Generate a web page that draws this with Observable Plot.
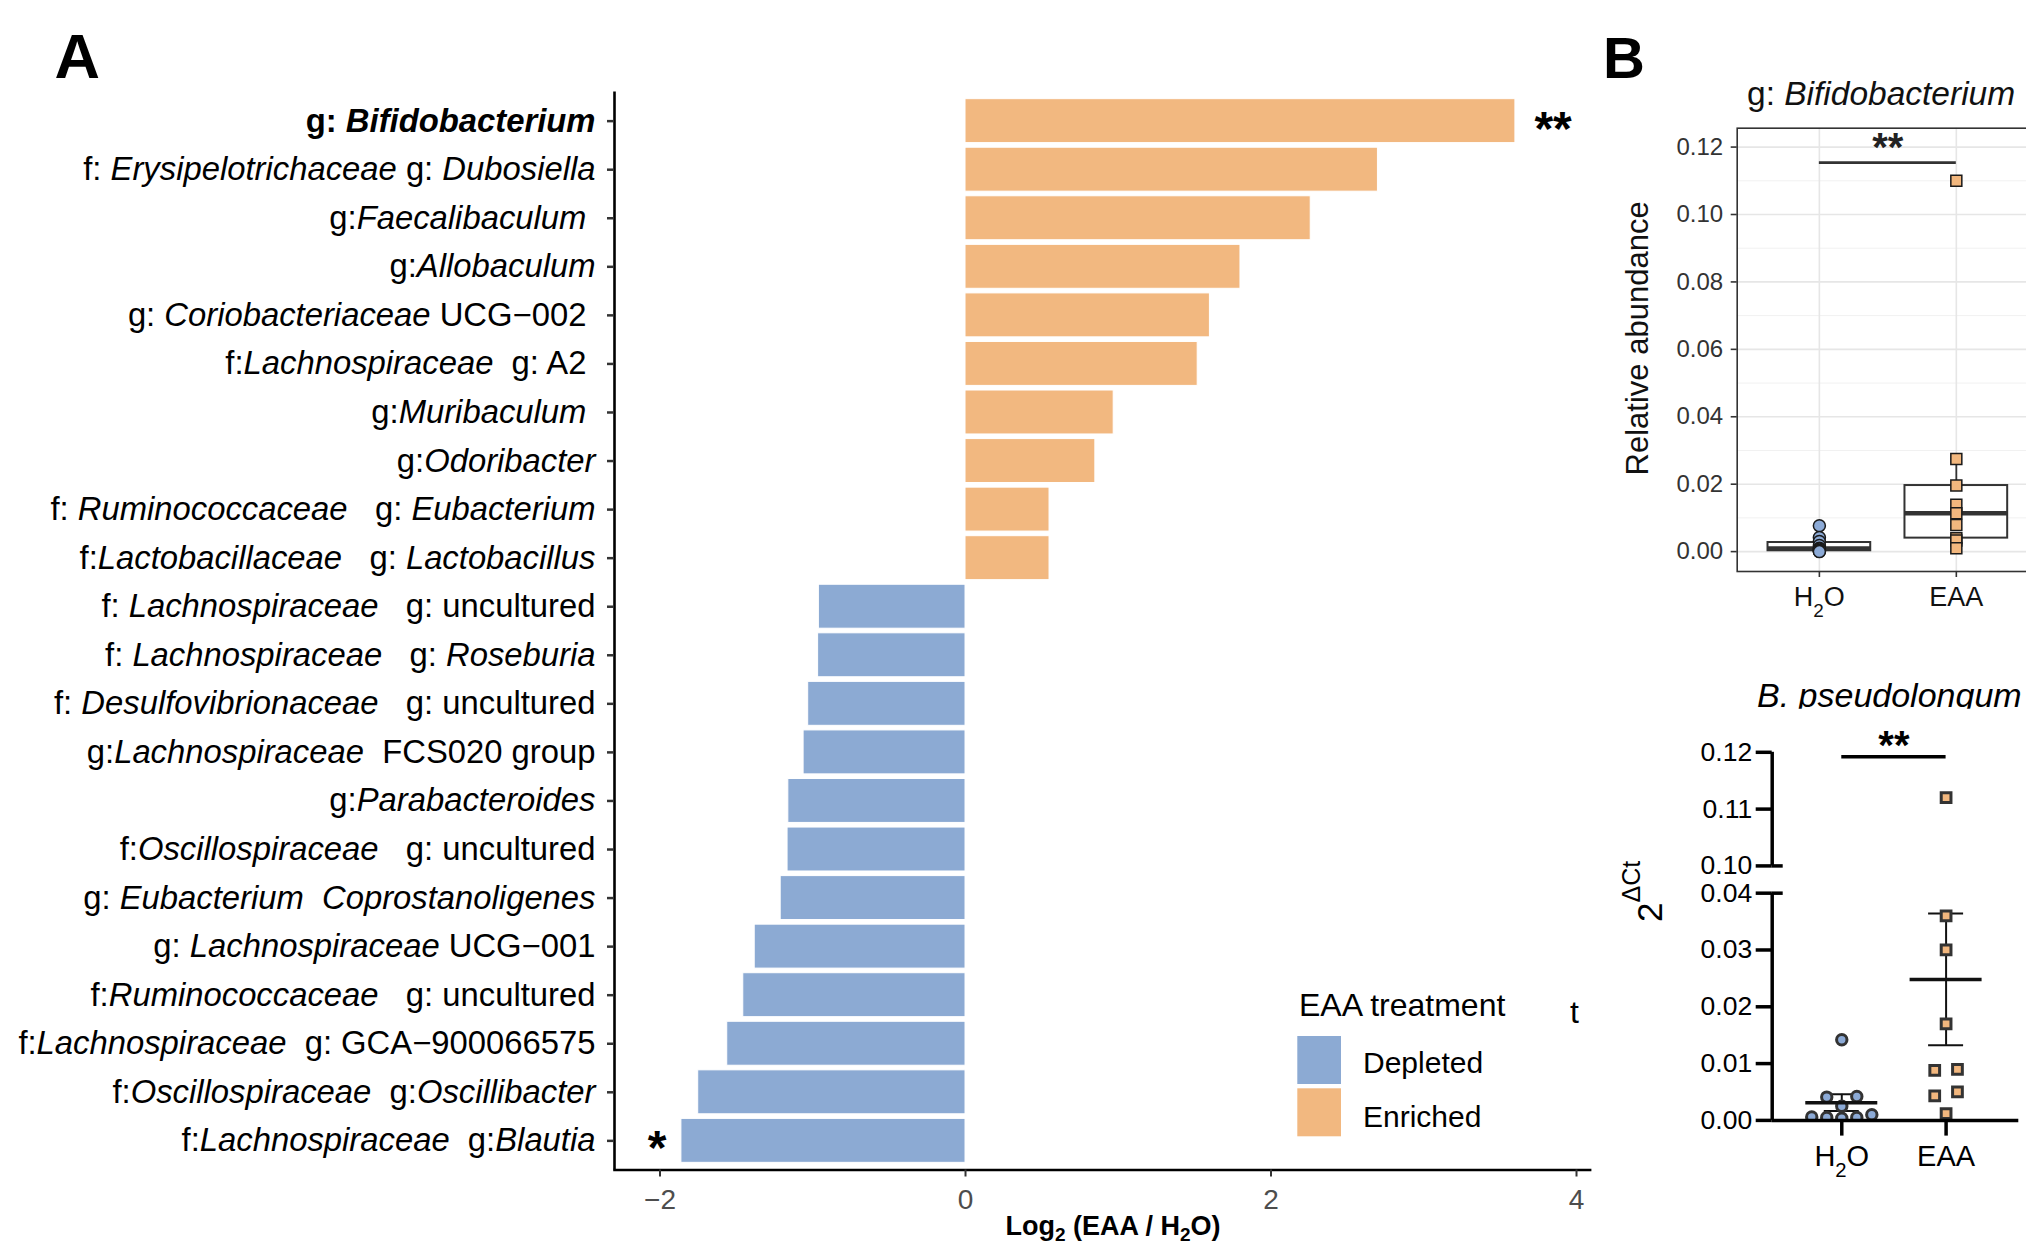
<!DOCTYPE html>
<html><head><meta charset="utf-8">
<script src="https://cdn.jsdelivr.net/npm/d3@7"></script>
<script src="https://cdn.jsdelivr.net/npm/@observablehq/plot@0.6"></script>
<style>
html,body{margin:0;padding:0;background:#fff;}
#root{position:relative;width:2026px;height:1246px;overflow:hidden;background:#fff;}
.abs{position:absolute;}
.abs svg{max-width:none !important;}
</style></head><body><div id="root"></div>
<script>
// ---------------- DATA ----------------
// Panel A: taxa (underscore-delimited segments are italic), log2 fold change, significance
const taxa = [
  "g: _Bifidobacterium_",
  "f: _Erysipelotrichaceae_ g: _Dubosiella_",
  "g:_Faecalibaculum_ ",
  "g:_Allobaculum_",
  "g: _Coriobacteriaceae_ UCG−002 ",
  "f:_Lachnospiraceae_  g: A2 ",
  "g:_Muribaculum_ ",
  "g:_Odoribacter_",
  "f: _Ruminococcaceae_   g: _Eubacterium_",
  "f:_Lactobacillaceae_   g: _Lactobacillus_",
  "f: _Lachnospiraceae_   g: uncultured",
  "f: _Lachnospiraceae_   g: _Roseburia_",
  "f: _Desulfovibrionaceae_   g: uncultured",
  "g:_Lachnospiraceae_  FCS020 group",
  "g:_Parabacteroides_",
  "f:_Oscillospiraceae_   g: uncultured",
  "g: _Eubacterium  Coprostanoligenes_",
  "g: _Lachnospiraceae_ UCG−001",
  "f:_Ruminococcaceae_   g: uncultured",
  "f:_Lachnospiraceae_  g: GCA−900066575",
  "f:_Oscillospiraceae_  g:_Oscillibacter_",
  "f:_Lachnospiraceae_  g:_Blautia_"
];
const log2fc = [3.60, 2.70, 2.26, 1.80, 1.60, 1.52, 0.97, 0.85, 0.55, 0.55,
  -0.96, -0.965, -1.03, -1.06, -1.16, -1.165, -1.21, -1.38, -1.455, -1.56, -1.75, -1.86];
const significance = ["**","","","","","","","","","","","","","","","","","","","","","*"];
const highlighted = ["g: _Bifidobacterium_"];
const treatmentGroups = ["Depleted", "Enriched"];
const treatmentColors = ["#8CAAD3", "#F2B880"];
const axisATicks = [-2, 0, 2, 4];

// Panel B (top): relative abundance of g: Bifidobacterium
const groupsB = ["H₂O", "EAA"];
const groupColors = ["#8CAAD6", "#F2B77E"];
const bifH2O = [0.0077, 0.0042, 0.0030, 0.0018, 0.0010, 0.0008, 0.0004, 0.0002, 0.0001, 0.0000];
const bifEAA = [0.1100, 0.0275, 0.0196, 0.0139, 0.0114, 0.0079, 0.0040, 0.0033, 0.0010];
const bifMajorTicks = [0, 0.02, 0.04, 0.06, 0.08, 0.10, 0.12];
const bifMinorTicks = [0.01, 0.03, 0.05, 0.07, 0.09, 0.11];
const bifSig = {y: 0.1154, ystar: 0.1205, label: "**"};

// Panel B (bottom): B. pseudolongum 2^ΔCt
const pseudoH2O = [0.0142, 0.0042, 0.0041, 0.0025, 0.0010, 0.0006, 0.0005, 0.0005, 0.0004];
const pseudoEAA = [0.112, 0.036, 0.030, 0.017, 0.009, 0.0088, 0.005, 0.0043, 0.0012];
const pseudoTicks = [0, 0.01, 0.02, 0.03, 0.04, 0.10, 0.11, 0.12];
const pseudoSegments = [[0, 0.04], [0.10, 0.12]];
const pseudoSig = {y: 0.1192, ystar: 0.1219, label: "**"};

// ---------------- HELPERS ----------------
const FONT = '"Liberation Sans", Arial, Helvetica, sans-serif';
const SVGNS = "http://www.w3.org/2000/svg";
const root = document.getElementById("root");
function place(el, left, top, w, h) {
  const d = document.createElement("div");
  d.className = "abs"; d.style.left = left + "px"; d.style.top = top + "px";
  d.style.width = w + "px"; d.style.height = h + "px";
  el.style.maxWidth = "none";
  d.appendChild(el); root.appendChild(d); return d;
}
function tspan(txt, attrs = {}) {
  const t = document.createElementNS(SVGNS, "tspan");
  t.textContent = txt;
  for (const k in attrs) t.setAttribute(k, attrs[k]);
  return t;
}
function italicize(svg, labels, bolds) {
  const set = new Set(labels);
  svg.querySelectorAll("text").forEach(t => {
    const raw = t.textContent;
    if (!set.has(raw)) return;
    t.textContent = "";
    t.style.whiteSpace = "pre";
    if (bolds.includes(raw)) t.setAttribute("font-weight", "bold");
    raw.split("_").forEach((seg, i) => {
      if (!seg) return;
      t.appendChild(tspan(seg, i % 2 ? {"font-style": "italic"} : {}));
    });
  });
}
function subscriptify(svg) {
  svg.querySelectorAll("text").forEach(t => {
    const raw = t.textContent;
    if (!raw.includes("₂")) return;
    t.textContent = "";
    raw.split("₂").forEach((p, i) => {
      if (i > 0) t.appendChild(tspan("2", {"font-size": "70%", "baseline-shift": "sub"}));
      if (p) t.appendChild(tspan(p));
    });
  });
}

// ---------------- PANEL A ----------------
const rowsA = taxa.map((t, i) => ({taxon: t, lfc: log2fc[i], sig: significance[i],
  dir: log2fc[i] < 0 ? treatmentGroups[0] : treatmentGroups[1]}));
const xDomA = [-2.298, 4.089];
const plotA = Plot.plot({
  width: 1600, height: 1246,
  marginLeft: 614, marginRight: 10.4, marginTop: 91.5, marginBottom: 76.5,
  style: {fontFamily: FONT, background: "transparent", overflow: "visible"},
  x: {domain: xDomA},
  y: {domain: taxa, paddingInner: 0.095, paddingOuter: 0.1475, round: false},
  color: {domain: treatmentGroups, range: treatmentColors},
  marks: [
    Plot.barX(rowsA, {x: "lfc", y: "taxon", fill: "dir", stroke: "#fff", strokeWidth: 1}),
    Plot.text(rowsA.filter(d => d.sig && d.lfc > 0), {x: "lfc", y: "taxon", text: "sig",
      textAnchor: "start", dx: 19, dy: 8, fontSize: 48, fontWeight: "bold", fill: "#000"}),
    Plot.text(rowsA.filter(d => d.sig && d.lfc < 0), {x: "lfc", y: "taxon", text: "sig",
      textAnchor: "end", dx: -15, dy: 8, fontSize: 48, fontWeight: "bold", fill: "#000"}),
    Plot.ruleX([xDomA[0]], {stroke: "#000", strokeWidth: 2.6}),
    Plot.frame({anchor: "bottom", stroke: "#000", strokeWidth: 2.6}),
    Plot.axisY({tickSize: 7, tickPadding: 12, fontSize: 32.8, fill: "#000", stroke: "#333",
      strokeWidth: 2.5, label: null}),
    Plot.axisX({ticks: axisATicks, tickSize: 7, tickPadding: 12, fontSize: 28, fill: "#4d4d4d",
      stroke: "#333", strokeWidth: 2, label: null,
      tickFormat: d => d < 0 ? "−" + Math.abs(d) : String(d)})
  ]
});
italicize(plotA, taxa, highlighted);
place(plotA, 0, 0, 1600, 1246);

// ---------------- PANEL B top ----------------
const bifSets = [bifH2O, bifEAA];
const bifPoints = bifSets.flatMap((vals, g) => vals.map(v => ({g, v})));
const bifStats = bifSets.map((vals, g) => {
  const s = vals.slice().sort(d3.ascending);
  const q1 = d3.quantile(s, 0.25), q2 = d3.quantile(s, 0.5), q3 = d3.quantile(s, 0.75);
  const iqr = q3 - q1;
  return {g, q1, q2, q3,
    lo: d3.min(s.filter(v => v >= q1 - 1.5 * iqr)),
    hi: d3.max(s.filter(v => v <= q3 + 1.5 * iqr))};
});
const boxHalf = 0.375;
const plotB1 = Plot.plot({
  width: 440, height: 530,
  marginLeft: 136.7, marginRight: 2, marginTop: 17.7, marginBottom: 69,
  style: {fontFamily: FONT, background: "transparent", overflow: "visible"},
  x: {domain: [-0.6, 1.6]},
  y: {domain: [-0.0059, 0.1256]},
  marks: [
    Plot.gridY(bifMinorTicks, {stroke: "#f1f1f1", strokeOpacity: 1, strokeWidth: 1}),
    Plot.gridY(bifMajorTicks, {stroke: "#e6e6e6", strokeOpacity: 1, strokeWidth: 1.6}),
    Plot.gridX([0, 1], {stroke: "#e6e6e6", strokeOpacity: 1, strokeWidth: 1.6}),
    Plot.ruleX(bifStats, {x: "g", y1: "lo", y2: "hi", stroke: "#333", strokeWidth: 1.8}),
    Plot.rectY(bifStats, {x1: d => d.g - boxHalf, x2: d => d.g + boxHalf, y1: "q1", y2: "q3",
      fill: "#fff", stroke: "#333", strokeWidth: 2}),
    Plot.ruleY(bifStats, {y: "q2", x1: d => d.g - boxHalf, x2: d => d.g + boxHalf, stroke: "#333", strokeWidth: 4.5}),
    Plot.dot(bifPoints.filter(d => d.g === 0), {x: "g", y: "v", r: 6, symbol: "circle",
      fill: groupColors[0], stroke: "#1a1a1a", strokeWidth: 1.5}),
    Plot.dot(bifPoints.filter(d => d.g === 1), {x: "g", y: "v", r: 6.2, symbol: "square",
      fill: groupColors[1], stroke: "#1a1a1a", strokeWidth: 1.5}),
    Plot.ruleY([bifSig], {y: "y", x1: 0, x2: 1, stroke: "#333", strokeWidth: 2.6}),
    Plot.text([bifSig], {x: 0.5, y: "ystar", text: "label", fontSize: 40, fontWeight: "bold", dy: 3, fill: "#222"}),
    Plot.frame({stroke: "#333", strokeWidth: 1.6}),
    Plot.axisY({ticks: bifMajorTicks, tickSize: 6, tickPadding: 8, fontSize: 24, fill: "#333",
      stroke: "#333", strokeWidth: 1.6, tickFormat: d3.format(".2f"), label: null}),
    Plot.axisX({ticks: [0, 1], tickSize: 6, tickPadding: 9, fontSize: 27, fill: "#111",
      stroke: "#333", strokeWidth: 1.6, tickFormat: i => groupsB[i], label: null})
  ]
});
subscriptify(plotB1);
place(plotB1, 1600, 110, 440, 530);

// ---------------- PANEL B bottom (broken axis) ----------------
const breakGap = 0.0048;
const brk = v => v <= pseudoSegments[0][1] + 1e-9 ? v : v - pseudoSegments[1][0] + pseudoSegments[0][1] + breakGap;
function swarmOffsets(vals, thresh) {
  const idx = d3.range(vals.length).sort((a, b) => vals[a] - vals[b]);
  const off = new Array(vals.length).fill(0);
  let i = 0;
  while (i < idx.length) {
    const start = vals[idx[i]], row = [];
    while (i < idx.length && vals[idx[i]] - start < thresh) row.push(idx[i++]);
    const n = row.length, order = [];
    if (n % 2) { order.push(0); for (let k = 1; k <= (n - 1) / 2; k++) order.push(-k, k); }
    else { for (let k = 0; k < n / 2; k++) order.push(-(k + 0.5), k + 0.5); }
    row.forEach((j, m) => off[j] = order[m]);
  }
  return off;
}
const pseudoSets = [pseudoH2O, pseudoEAA];
const slotWidth = [0.144, 0.218];
const swarmThresh = [0.002, 0.0022];
const pseudoPoints = pseudoSets.flatMap((vals, g) => {
  const off = swarmOffsets(vals, swarmThresh[g]);
  return vals.map((v, i) => ({g, v, xo: g + off[i] * slotWidth[g]}));
});
const pseudoStats = pseudoSets.map((vals, g) => {
  const m = d3.mean(vals), se = d3.deviation(vals) / Math.sqrt(vals.length);
  return {g, mean: m, lo: m - se, hi: m + se};
});
const xDomB2 = [-0.667, 1.697];
const pxPerUnitB2 = (440 - 171.7 - 21.7) / (xDomB2[1] - xDomB2[0]);
const meanHalf = 36 / pxPerUnitB2, capHalf = 17.5 / pxPerUnitB2, breakExt = 11 / pxPerUnitB2;
const tickLabelMap = new Map(pseudoTicks.map(t => [brk(t), d3.format(".2f")(t)]));
const plotB2 = Plot.plot({
  width: 440, height: 526,
  marginLeft: 171.7, marginRight: 21.7, marginTop: 31.8, marginBottom: 126.1,
  style: {fontFamily: FONT, background: "transparent", overflow: "visible"},
  x: {domain: xDomB2},
  y: {domain: [0, brk(0.12)]},
  marks: [
    Plot.ruleX(pseudoStats, {x: "g", y1: "lo", y2: "hi", stroke: "#111", strokeWidth: 2}),
    Plot.ruleY(pseudoStats, {y: "lo", x1: d => d.g - capHalf, x2: d => d.g + capHalf, stroke: "#111", strokeWidth: 2}),
    Plot.ruleY(pseudoStats, {y: "hi", x1: d => d.g - capHalf, x2: d => d.g + capHalf, stroke: "#111", strokeWidth: 2}),
    Plot.dot(pseudoPoints.filter(d => d.g === 0), {x: "xo", y: d => brk(d.v), r: 5.2, symbol: "circle",
      fill: groupColors[0], stroke: "#333", strokeWidth: 3, clip: true}),
    Plot.dot(pseudoPoints.filter(d => d.g === 1), {x: "xo", y: d => brk(d.v), r: 5.5, symbol: "square",
      fill: groupColors[1], stroke: "#333", strokeWidth: 3, clip: true}),
    Plot.ruleY(pseudoStats, {y: "mean", x1: d => d.g - meanHalf, x2: d => d.g + meanHalf, stroke: "#111", strokeWidth: 3.5}),
    Plot.ruleX(pseudoSegments, {x: xDomB2[0], y1: d => brk(d[0]), y2: d => brk(d[1]), stroke: "#000", strokeWidth: 3.5}),
    Plot.ruleY([pseudoSegments[0][1], pseudoSegments[1][0]], {y: brk, x1: xDomB2[0], x2: xDomB2[0] + breakExt, stroke: "#000", strokeWidth: 3.5}),
    Plot.ruleY([0], {stroke: "#000", strokeWidth: 3.5}),
    Plot.ruleY([pseudoSig], {y: d => brk(d.y), x1: 0, x2: 1, stroke: "#000", strokeWidth: 3.5}),
    Plot.text([pseudoSig], {x: 0.5, y: d => brk(d.ystar), text: "label", fontSize: 40, fontWeight: "bold", dy: 5, fill: "#000"}),
    Plot.axisY({ticks: pseudoTicks.map(brk), tickSize: 16, tickPadding: 4, fontSize: 26.5, fill: "#000",
      stroke: "#000", strokeWidth: 3.5, tickFormat: t => tickLabelMap.get(t), label: null}),
    Plot.axisX({ticks: [0, 1], tickSize: 15.7, tickPadding: 9, fontSize: 29, fill: "#000",
      stroke: "#000", strokeWidth: 3.5, tickFormat: i => groupsB[i], label: null})
  ]
});
subscriptify(plotB2);
place(plotB2, 1600, 720, 440, 526);

// ---------------- OVERLAY TEXT (panel letters, titles, legend) ----------------
const ov = document.createElementNS(SVGNS, "svg");
ov.setAttribute("width", 2026); ov.setAttribute("height", 1246);
ov.style.fontFamily = FONT; ov.style.pointerEvents = "none";
function txt(x, y, content, attrs = {}) {
  const t = document.createElementNS(SVGNS, "text");
  t.setAttribute("x", x); t.setAttribute("y", y);
  for (const k in attrs) t.setAttribute(k, attrs[k]);
  (Array.isArray(content) ? content : [content]).forEach(c =>
    typeof c === "string" ? t.appendChild(document.createTextNode(c)) : t.appendChild(c));
  ov.appendChild(t); return t;
}
txt(54.5, 77.5, "A", {"font-size": 63, "font-weight": "bold"});
txt(1603, 77.5, "B", {"font-size": 58, "font-weight": "bold"});
// Panel A x-axis title
txt(1113, 1234.5, ["Log", tspan("2", {"font-size": 19, dy: 6}), tspan(" (EAA / H", {dy: -6}),
  tspan("2", {"font-size": 19, dy: 6}), tspan("O)", {dy: -6})],
  {"font-size": 27, "font-weight": "bold", "text-anchor": "middle"});
// Legend
txt(1299, 1016, "EAA treatment", {"font-size": 32});
treatmentGroups.forEach((g, i) => {
  const r = document.createElementNS(SVGNS, "rect");
  r.setAttribute("x", 1297.3); r.setAttribute("y", 1036 + i * 52.3);
  r.setAttribute("width", 43.7); r.setAttribute("height", 48);
  r.setAttribute("fill", treatmentColors[i]);
  ov.appendChild(r);
  txt(1363, 1073.3 + i * 53.4, g, {"font-size": 30});
});
txt(1570, 1022.7, "t", {"font-size": 32});
// Panel B top titles
txt(1747, 104.7, ["g: ", tspan("Bifidobacterium", {"font-style": "italic"})], {"font-size": 33.5, fill: "#111"});
txt(0, 0, "Relative abundance", {"font-size": 31, "text-anchor": "middle", fill: "#111",
  transform: "translate(1648,338.4) rotate(-90)"});
// Panel B bottom titles
const defs = document.createElementNS(SVGNS, "defs");
defs.innerHTML = '<clipPath id="titleclip"><rect x="1700" y="660" width="400" height="48.7"/></clipPath>';
ov.appendChild(defs);
txt(1757, 707, "B. pseudolongum", {"font-size": 34, "font-style": "italic", "clip-path": "url(#titleclip)"});
txt(0, 0, ["2", tspan("ΔCt", {"font-size": 25, dy: -21.7})], {"font-size": 35,
  transform: "translate(1661.7,922) rotate(-90)"});
place(ov, 0, 0, 2026, 1246);
</script></body></html>
